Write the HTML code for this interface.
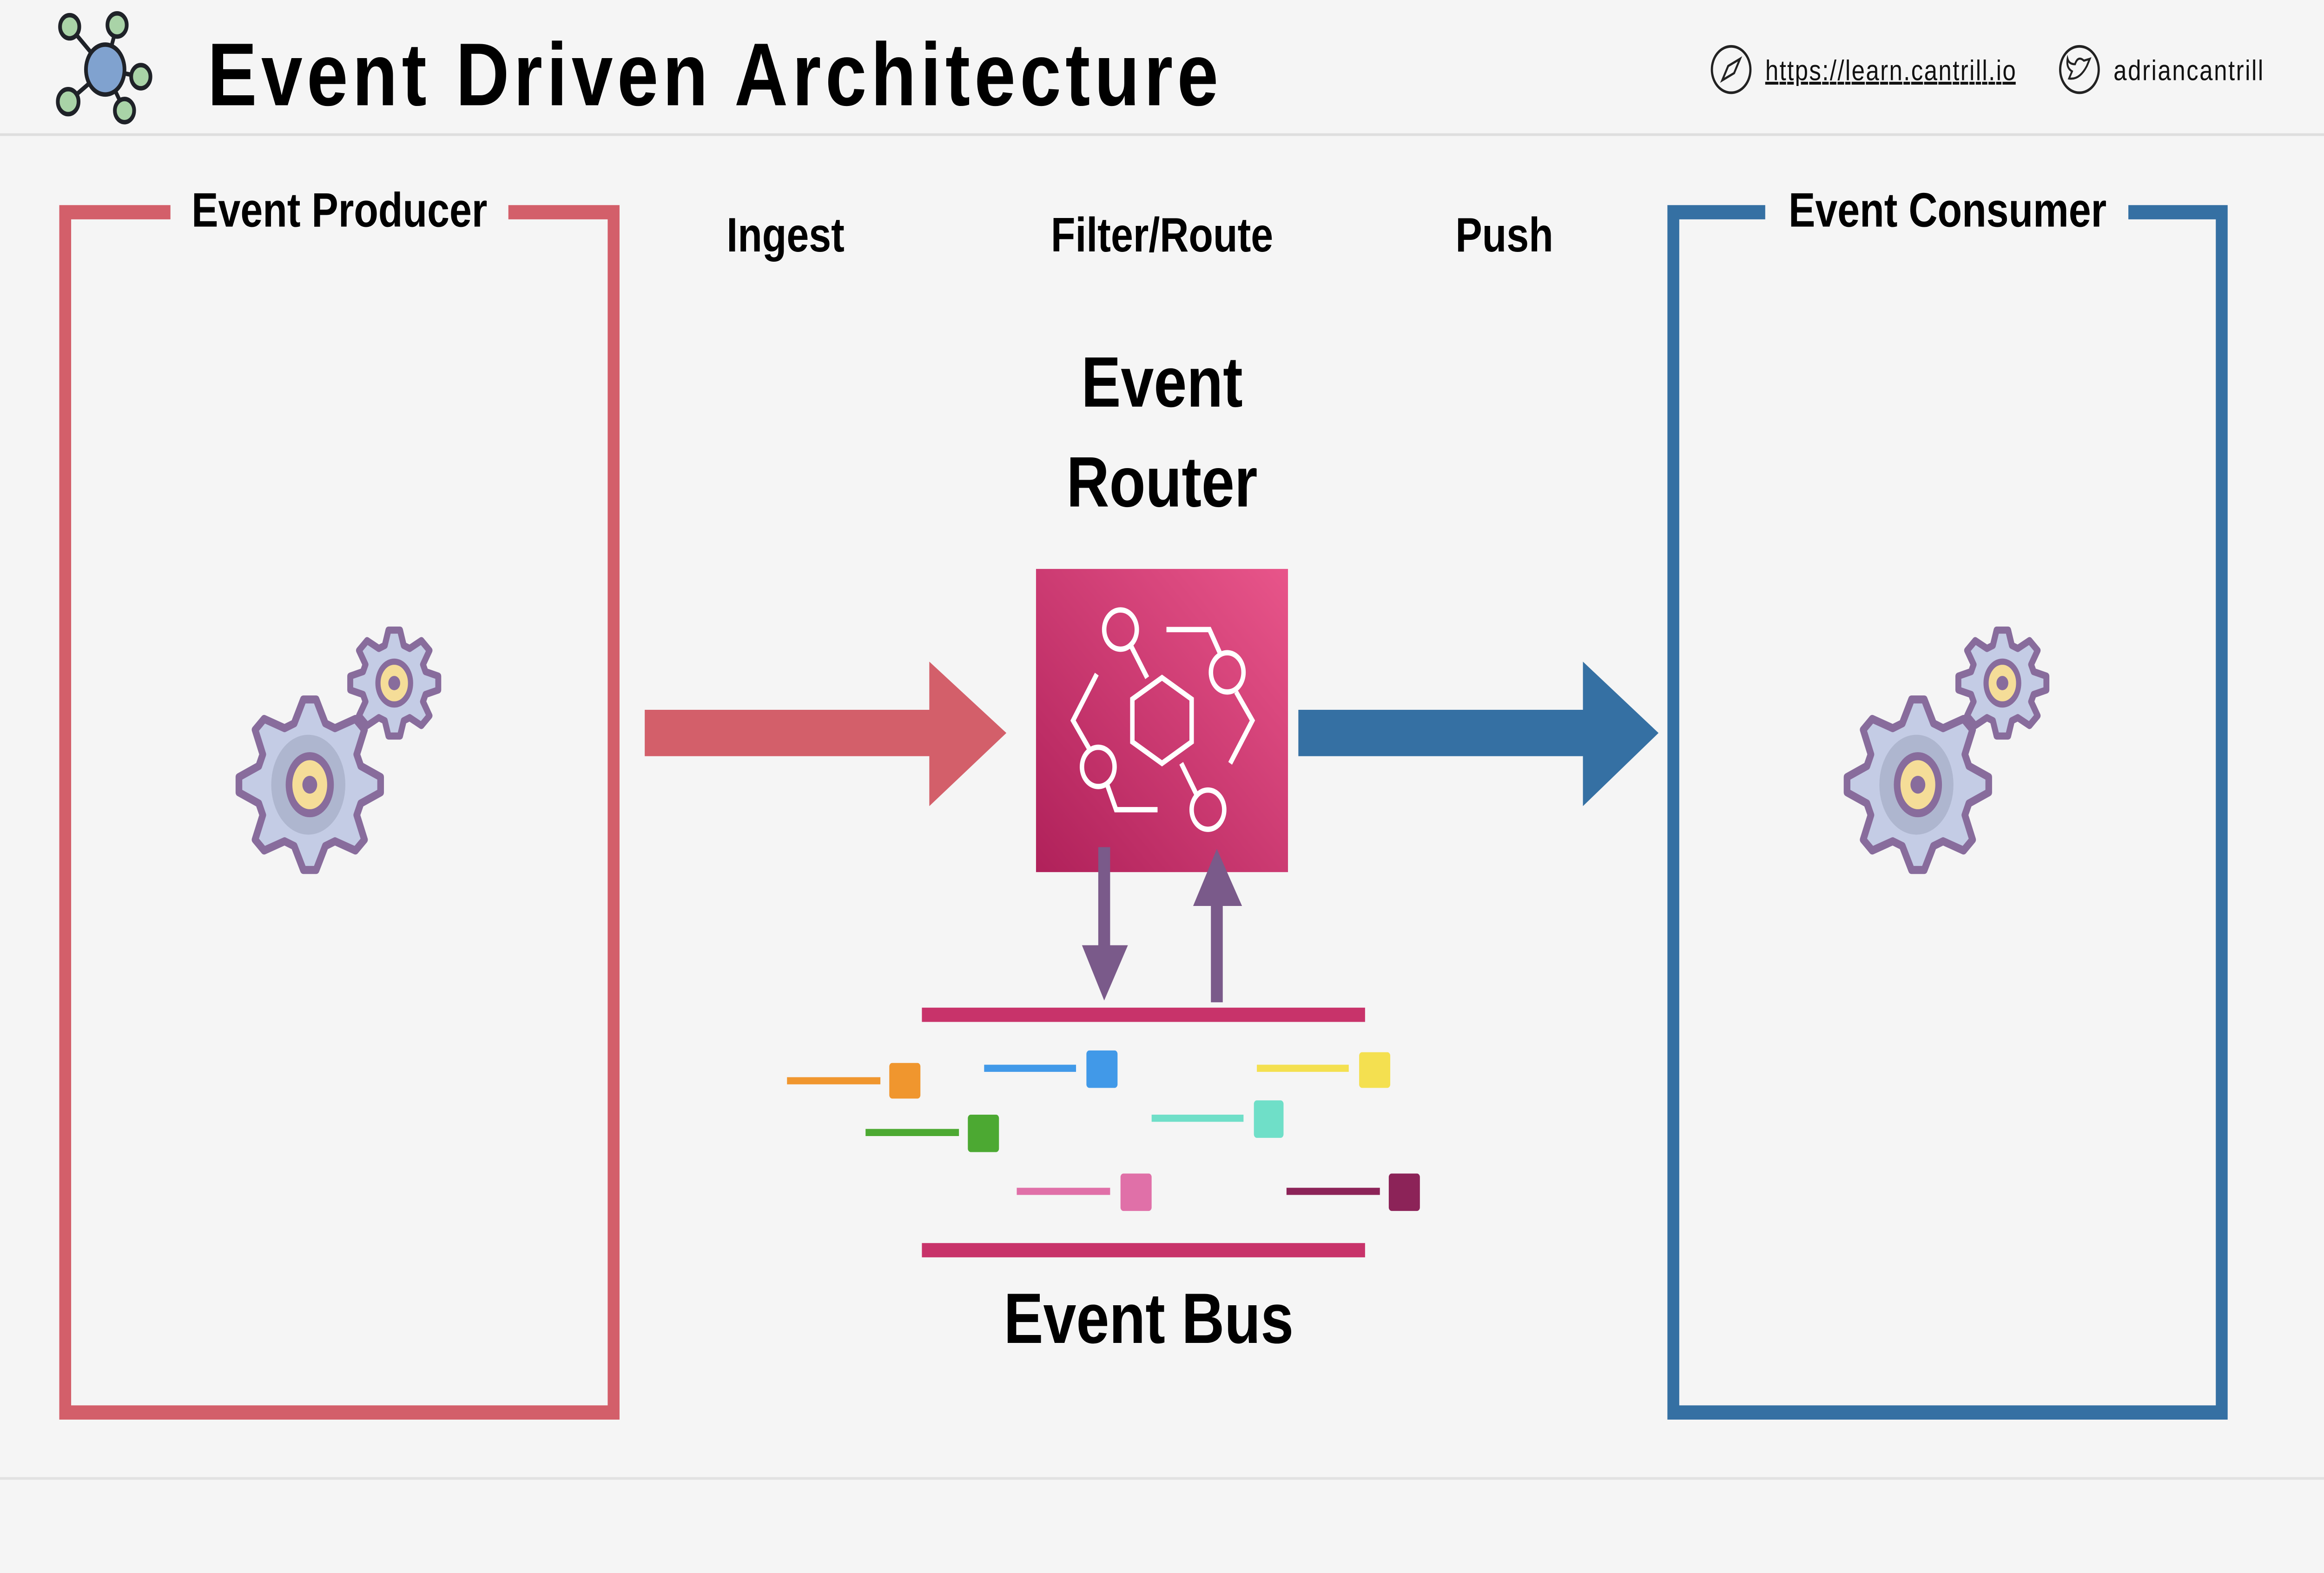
<!DOCTYPE html>
<html><head><meta charset="utf-8"><style>
html,body{margin:0;padding:0;background:#f5f5f5;width:100%;height:100%;overflow:hidden}
svg{display:block;width:100vw;height:100vh}
text{font-family:"Liberation Sans",sans-serif}
</style></head><body>
<svg viewBox="0 0 1568 882" preserveAspectRatio="none" xmlns="http://www.w3.org/2000/svg">
<defs>
<linearGradient id="rg" x1="0" y1="1" x2="1" y2="0">
<stop offset="0" stop-color="#b0215a"/><stop offset="1" stop-color="#e8558a"/></linearGradient>
</defs>
<rect width="1568" height="882" fill="#f5f5f5"/>
<line x1="0" y1="75.5" x2="1568" y2="75.5" stroke="#dedede" stroke-width="1.5"/>
<line x1="0" y1="829" x2="1568" y2="829" stroke="#e2e2e2" stroke-width="1.5"/>
<g stroke="#1f2228" stroke-width="2.5">
<line x1="71" y1="39" x2="47" y2="15"/><line x1="71" y1="39" x2="79" y2="14"/>
<line x1="71" y1="39" x2="95" y2="43"/><line x1="71" y1="39" x2="46" y2="57"/>
<line x1="71" y1="39" x2="84" y2="62"/>
<circle cx="47" cy="15" r="6.5" fill="#a9d3a7"/><circle cx="79" cy="14" r="6.5" fill="#a9d3a7"/>
<circle cx="95" cy="43" r="6.5" fill="#a9d3a7"/><circle cx="46" cy="57" r="7" fill="#a9d3a7"/>
<circle cx="84" cy="62" r="6.5" fill="#a9d3a7"/>
<ellipse cx="71" cy="39" rx="13" ry="14" fill="#80a2cf"/>
</g>
<text x="140" y="59" font-size="50" font-weight="bold" fill="#000" textLength="682">Event Driven Architecture</text>
<circle cx="1168" cy="39" r="13" fill="none" stroke="#222" stroke-width="1.5"/>
<path d="M1174 33 L1170 41 L1162 45 L1166 37Z" fill="none" stroke="#222" stroke-width="1.3"/>
<text x="1191" y="45" font-size="16" fill="#111" text-decoration="underline" textLength="169">https://learn.cantrill.io</text>
<circle cx="1403" cy="39" r="13" fill="none" stroke="#222" stroke-width="1.5"/>
<path d="M1396 44 Q1403 45 1408 37 L1410 33 L1406 34 Q1402 31 1400 36 Q1396 36 1395 33 Q1394 38 1398 40 Q1397 42 1396 44Z" fill="none" stroke="#222" stroke-width="1.2"/>
<text x="1426" y="45" font-size="16" fill="#111" textLength="101">adriancantrill</text>
<path d="M115 119 H44 V792 H414 V119 H343" fill="none" stroke="#d35f6a" stroke-width="8"/>
<text x="229" y="127" font-size="27" font-weight="bold" text-anchor="middle">Event Producer</text>
<path d="M1191 119 H1129 V792 H1499 V119 H1436" fill="none" stroke="#3570a3" stroke-width="8"/>
<text x="1314" y="127" font-size="27" font-weight="bold" text-anchor="middle">Event Consumer</text>
<text x="530" y="141" font-size="27" font-weight="bold" text-anchor="middle">Ingest</text>
<text x="784" y="141" font-size="27" font-weight="bold" text-anchor="middle">Filter/Route</text>
<text x="1015" y="141" font-size="27" font-weight="bold" text-anchor="middle">Push</text>
<text x="784" y="228" font-size="40" font-weight="bold" text-anchor="middle">Event</text>
<text x="784" y="284" font-size="40" font-weight="bold" text-anchor="middle">Router</text>
<path d="M435 398 H627 V371 L679 411 L627 452 V424 H435Z" fill="#d35f6a"/>
<path d="M876 398 H1068 V371 L1119 411 L1068 452 V424 H876Z" fill="#3570a3"/>
<rect x="699" y="319" width="170" height="170" fill="url(#rg)"/>
<g fill="none" stroke="#fff" stroke-width="3">
<polygon points="784,380 804,392 804,416 784,428 764,416 764,392"/>
<circle cx="756" cy="353" r="11"/><circle cx="828" cy="377" r="11"/>
<circle cx="741" cy="430" r="11"/><circle cx="815" cy="454" r="11"/>
<path d="M763 362 L774 380"/><path d="M787 353 H816 L823 366"/>
<path d="M740 378 L724 404 L735 420"/><path d="M834 388 L845 404 L830 428"/>
<path d="M747 440 L753 454 H781"/><path d="M797 428 L807 445"/>
</g>
<rect x="741" y="475" width="8" height="57" fill="#7a5a8a"/>
<path d="M730 530 H761 L745 561Z" fill="#7a5a8a"/>
<rect x="817" y="506" width="8" height="56" fill="#7a5a8a"/>
<path d="M805 508 H838 L821 476Z" fill="#7a5a8a"/>
<rect x="622" y="565" width="299" height="8" fill="#c8336a"/>
<rect x="622" y="697" width="299" height="8" fill="#c8336a"/>
<rect x="531" y="604" width="63" height="4" fill="#f0962e"/><rect x="600" y="596" width="21" height="20" rx="2" fill="#f0962e"/>
<rect x="664" y="597" width="62" height="4" fill="#4199e8"/><rect x="733" y="589" width="21" height="21" rx="2" fill="#4199e8"/>
<rect x="848" y="597" width="62" height="4" fill="#f4e050"/><rect x="917" y="590" width="21" height="20" rx="2" fill="#f4e050"/>
<rect x="584" y="633" width="63" height="4" fill="#4ca932"/><rect x="653" y="625" width="21" height="21" rx="2" fill="#4ca932"/>
<rect x="777" y="625" width="62" height="4" fill="#6fdfc8"/><rect x="846" y="617" width="20" height="21" rx="2" fill="#6fdfc8"/>
<rect x="686" y="666" width="63" height="4" fill="#e070a8"/><rect x="756" y="658" width="21" height="21" rx="2" fill="#e070a8"/>
<rect x="868" y="666" width="63" height="4" fill="#8c2358"/><rect x="937" y="658" width="21" height="21" rx="2" fill="#8c2358"/>
<text x="775" y="753" font-size="40" font-weight="bold" text-anchor="middle">Event Bus</text>
<g id="gears"></g>
</svg>
<script>
function gear(cx,cy,R,r,n,tw){
 var d="";for(var i=0;i<n;i++){var a=i*2*Math.PI/n;
 var pts=[[r,a-Math.PI/n*0.75],[R,a-tw],[R,a+tw],[r,a+Math.PI/n*0.75]];
 pts.forEach(function(p,j){var x=cx+p[0]*Math.sin(p[1]),y=cy-p[0]*Math.cos(p[1]);d+=(i==0&&j==0?"M":"L")+x.toFixed(1)+" "+y.toFixed(1)+" ";});}
 return d+"Z";}
var g=document.getElementById("gears"),s="";
function set(bx,by,sx,sy){
 s+='<path d="'+gear(sx,sy,30,22,8,0.13)+'" fill="#c4cce5" stroke="#886c9c" stroke-width="4" stroke-linejoin="round"/>';
 s+='<ellipse cx="'+sx+'" cy="'+sy+'" rx="11" ry="12" fill="#f5dd98" stroke="#886c9c" stroke-width="3.5"/><circle cx="'+sx+'" cy="'+sy+'" r="4" fill="#886c9c"/>';
 s+='<path d="'+gear(bx,by,48,36,8,0.09)+'" fill="#c4cce5" stroke="#886c9c" stroke-width="4.5" stroke-linejoin="round"/>';
 s+='<ellipse cx="'+(bx-1)+'" cy="'+by+'" rx="25" ry="28" fill="#aeb6cf"/>';
 s+='<ellipse cx="'+bx+'" cy="'+by+'" rx="14" ry="16" fill="#f5dd98" stroke="#886c9c" stroke-width="4.5"/><circle cx="'+bx+'" cy="'+by+'" r="5" fill="#886c9c"/>';
}
set(209,440,266,383);set(1294,440,1351,383);
g.innerHTML=s;
</script>
</body></html>
